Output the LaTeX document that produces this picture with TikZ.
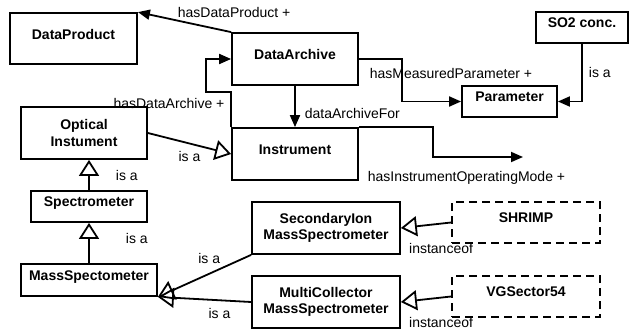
\documentclass[tikz,border=0pt]{standalone}
\usepackage{fontspec}
\setmainfont{Liberation Sans}
\usetikzlibrary{arrows.meta}

\begin{document}
\begin{tikzpicture}[x=1pt,y=-1pt,line width=1.8pt,
    cls/.style={draw,font=\bfseries\fontsize{14}{16.5}\selectfont,align=center,inner sep=2pt},
    one/.style={cls,text depth=9pt},
    inst/.style={one,dash pattern=on 8pt off 5pt},
    assoc/.style={-{Triangle[length=12pt,width=10pt]}},
    isa/.style={-{Triangle[open,length=16pt,width=20pt]}},
    lbl/.style={font=\fontsize{14}{16}\selectfont,inner sep=1pt}]
    \useasboundingbox (0,0) rectangle (630,332);

    \node (prod) [one,minimum width=127pt,minimum height=51pt] at (73.5,38.5) {DataProduct};
    \node (archive) [one,minimum width=126pt,minimum height=52pt] at (295,59) {DataArchive};
    \node (instr) [one,minimum width=126pt,minimum height=52pt] at (295,154) {Instrument};
    \node (optical) [cls,minimum width=126pt,minimum height=52pt] at (84,133) {Optical\\Instument};
    \node (spectro) [one,minimum width=116pt,minimum height=31pt] at (89,206.5) {Spectrometer};
    \node (mass) [one,minimum width=136pt,minimum height=32pt] at (89,280) {MassSpectometer};
    \node (secion) [cls,minimum width=148pt,minimum height=52pt] at (326,228) {SecondaryIon\\MassSpectrometer};
    \node (multi) [cls,minimum width=148pt,minimum height=52pt] at (326,302) {MultiCollector\\MassSpectrometer};
    \node (shrimp) [inst,minimum width=148pt,minimum height=41pt] at (526,222.5) {SHRIMP};
    \node (vg) [inst,minimum width=148pt,minimum height=41pt] at (526,296.5) {VGSector54};
    \node (so2) [one,minimum width=92pt,minimum height=31pt] at (582,27.5) {SO2 conc.};
    \node (param) [one,minimum width=95pt,minimum height=31pt] at (509.5,101.5) {Parameter};
    \coordinate (mode) at (523,157);

    \draw[assoc] (archive.north west) -- (prod.north east) node[lbl,at start,anchor=south,xshift=3pt,yshift=13pt] {hasDataProduct +};
    \draw[assoc] (instr.north west) |- (206,92) node[lbl,anchor=north,xshift=-37pt,yshift=-4pt] {hasDataArchive +} |- (archive.west);
    \draw[assoc] (archive) -- (instr) node[lbl,pos=0.66,right=8pt] {dataArchiveFor};
    \draw[assoc] (archive.east) node[lbl,anchor=north west,xshift=9pt,yshift=-7pt] {hasMeasuredParameter +} -| (402,101.5) -- (param.west);
    \draw[assoc] (so2.south) |- (param.east) node[lbl,pos=0.25,right=5pt] {is a};
    \draw[assoc] (instr.north east) -| (433,157) -- (mode) node[lbl,midway,below=12pt,xshift=-11.5pt] {hasInstrumentOperatingMode +};

    \draw[isa] (optical.east) -- (instr.west) node[lbl,midway,below=5.5pt] {is a};
    \draw[isa] (spectro.north) -- (spectro.north |- optical.south) node[lbl,midway,right=25pt] {is a};
    \draw[isa] (mass) -- (spectro) node[lbl,midway,right=35pt,yshift=4.5pt] {is a};
    \draw[isa] (secion.south west) -- (mass.south east) node[lbl,pos=0.45,above=8pt] {is a};
    \draw[isa] (multi.west) -- (mass.south east) node[lbl,pos=0.34,below=6pt] {is a};
    \draw[isa] (shrimp.west) -- (secion.east) node[lbl,pos=0.2,below=18pt] {instanceof};
    \draw[isa] (vg.west) -- (multi.east) node[lbl,pos=0.2,below=18pt] {instanceof};
\end{tikzpicture}
\end{document}
